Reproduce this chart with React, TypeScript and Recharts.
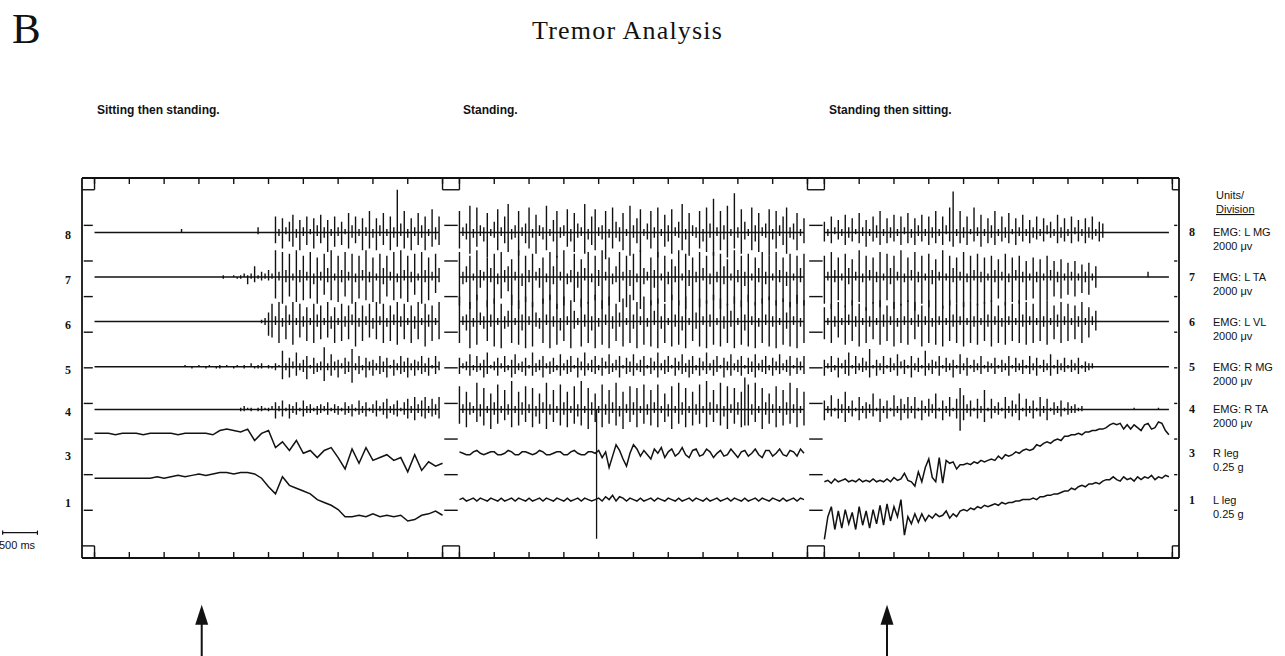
import React from "react";
import { LineChart, Line, XAxis, YAxis, ReferenceLine, ReferenceDot } from "recharts";

// rows, top to bottom
const channels = ["8", "7", "6", "5", "4", "3", "1"];
const channelNames = ["EMG: L MG", "EMG: L TA", "EMG: L VL", "EMG: R MG", "EMG: R TA", "R leg", "L leg"];
const channelUnits = ["2000 μv", "2000 μv", "2000 μv", "2000 μv", "2000 μv", "0.25 g", "0.25 g"];
// baseline of each row, in divisions
const rowLevels = [8.8, 7.55, 6.3, 5.03, 3.83, 2.6, 1.3];

const panelTitles = ["Sitting then standing.", "Standing.", "Standing then sitting."];
const panelStarts = [0, 5243, 10486]; // ms on the shared time axis
const panelTicks = [0, 500, 1000, 1500, 2000, 2500, 3000, 3500, 4000, 4500, 5000];
const divisionLevels = [0, 1, 2, 3, 4, 5, 6, 7, 8, 9, 10];
const PANEL_MS = 5000;
const X_MIN = -180;
const X_MAX = 15581;
const Y_MIN = -0.34;
const Y_MAX = 10.33;

const markerTime = 1970; // sync line in the standing panel
const arrowPanels = [0, 2];
const arrowTimes = [1540, 900];
const scaleBarStart = -1320;
const scaleBarMs = 500;

const EMG_STEP = 50; // ms between EMG peaks
const EMG_PER_DIV = 20; // values in 100 µV, 2000 µV per division
const LEG_PER_DIV = 25; // values in 0.01 g, 0.25 g per division
const legSteps = [100, 50, 50];

// EMG: pairs of (positive peak, negative peak) every 50 ms, in 100 µV
// ---- Sitting then standing ----
const sitStandLMG = [
  0, 0, 0, 0, 0, 0, 0, 0, 0, 0, 0, 0, 0, 0, 0, 0, 0, 0, 0, 0,
  0, 0, 0, 0, 0, 0, 0, 0, 0, 0, 0, 0, 0, 0, 0, 0, 0, 0, 0, 0,
  0, 0, 0, 0, 0, 0, 0, 0, 0, 0, 2, 0, 0, 0, 0, 0, 0, 0, 0, 0,
  0, 0, 0, 0, 0, 0, 0, 0, 0, 0, 0, 0, 0, 0, 0, 0, 0, 0, 0, 0,
  0, 0, 0, 0, 0, 0, 0, 0, 0, 0, 0, 0, 0, 0, 3, -1, 0, 0, 0, 0,
  0, 0, 0, 0, 9, -6, 2, -2, 8, -9, 3, -1, 6, -5, 10, -8, 2, -3, 7, -10,
  3, -2, 9, -7, 2, -1, 8, -9, 4, -2, 10, -6, 3, -3, 7, -11, 2, -2, 9, -8,
  3, -2, 6, -7, 2, -1, 11, -9, 4, -3, 9, -6, 2, -2, 8, -10, 3, -2, 12, -9,
  2, -3, 8, -10, 4, -2, 11, -7, 2, -2, 9, -10, 3, -3, 24, -8, 5, -2, 12, -9,
  2, -3, 8, -10, 3, -2, 11, -7, 4, -3, 9, -10, 2, -2, 13, -8, 3, -4, 9, -7,
];
const sitStandLTA = [
  0, 0, 0, 0, 0, 0, 0, 0, 0, 0, 0, 0, 0, 0, 0, 0, 0, 0, 0, 0,
  0, 0, 0, 0, 0, 0, 0, 0, 0, 0, 0, 0, 0, 0, 0, 0, 0, 0, 0, 0,
  0, 0, 0, 0, 0, 0, 0, 0, 0, 0, 0, 0, 0, 0, 0, 0, 0, 0, 0, 0,
  0, 0, 0, 0, 0, 0, 0, 0, 0, 0, 0, 0, 0, 0, 1, -1, 0, 0, 0, 0,
  1, 0, 0, -1, 1, -1, 2, 0, 1, -4, 2, -1, 6, -3, 1, -1, 3, -2, 2, -1,
  4, -2, 2, -1, 15, -12, 3, -2, 14, -15, 4, -3, 13, -11, 2, -2, 15, -14, 4, -3,
  12, -13, 3, -2, 14, -12, 2, -4, 11, -15, 3, -2, 13, -10, 5, -3, 15, -13, 2, -2,
  12, -14, 4, -3, 14, -11, 3, -2, 13, -15, 2, -3, 12, -12, 4, -2, 15, -13, 3, -3,
  11, -14, 2, -2, 13, -15, 5, -4, 12, -11, 3, -2, 14, -13, 2, -3, 15, -12, 4, -2,
  12, -14, 3, -3, 13, -10, 2, -2, 14, -15, 4, -3, 11, -13, 3, -2, 13, -9, 5, -3,
];
const sitStandLVL = [
  0, 0, 0, 0, 0, 0, 0, 0, 0, 0, 0, 0, 0, 0, 0, 0, 0, 0, 0, 0,
  0, 0, 0, 0, 0, 0, 0, 0, 0, 0, 0, 0, 0, 0, 0, 0, 0, 0, 0, 0,
  0, 0, 0, 0, 0, 0, 0, 0, 0, 0, 0, 0, 0, 0, 0, 0, 0, 0, 0, 0,
  0, 0, 0, 0, 0, 0, 0, 0, 0, 0, 0, 0, 0, 0, 0, 0, 0, 0, 0, 0,
  0, 0, 0, 0, 0, 0, 0, 0, 0, 0, 0, 0, 0, 0, 0, 0, 1, -1, 2, -2,
  5, -8, 10, -9, 3, -2, 11, -12, 2, -3, 9, -10, 4, -2, 11, -13, 2, -2, 10, -9,
  3, -3, 8, -11, 2, -2, 10, -12, 4, -3, 9, -10, 2, -2, 11, -9, 3, -4, 8, -12,
  2, -2, 10, -11, 3, -3, 9, -10, 4, -2, 11, -14, 2, -3, 9, -11, 3, -2, 10, -9,
  2, -4, 11, -10, 3, -2, 10, -12, 2, -3, 9, -11, 4, -2, 11, -13, 3, -3, 10, -10,
  2, -2, 9, -12, 3, -4, 11, -10, 2, -2, 10, -14, 4, -3, 9, -11, 2, -2, 11, -10,
];
const sitStandRMG = [
  0, 0, 0, 0, 0, 0, 0, 0, 0, 0, 0, 0, 0, 0, 0, 0, 0, 0, 0, 0,
  0, 0, 0, 0, 0, 0, 0, 0, 0, 0, 0, 0, 0, 0, 0, 0, 0, 0, 0, 0,
  0, 0, 0, 0, 0, 0, 0, 0, 0, 0, 0, 0, 1, 0, 0, 0, 0, -1, 0, 0,
  1, 0, 0, 0, 0, -1, 1, 0, 0, 0, 0, -1, 1, -1, 0, 0, 1, 0, 0, 0,
  0, -1, 1, 0, 0, 0, 1, -1, 0, 0, 2, 0, 0, -1, 1, -1, 2, -1, 0, 0,
  1, -1, 0, -1, 2, -2, 1, 0, 9, -7, 2, -2, 5, -6, 3, -1, 8, -5, 2, -2,
  4, -3, 6, -7, 1, -1, 5, -4, 2, -3, 3, -2, 11, -8, 2, -2, 7, -5, 3, -2,
  4, -6, 2, -1, 5, -4, 3, -3, 10, -9, 2, -2, 6, -4, 1, -2, 5, -6, 3, -2,
  4, -5, 2, -2, 6, -4, 3, -3, 5, -6, 1, -1, 4, -5, 2, -2, 6, -4, 3, -3,
  5, -6, 2, -2, 4, -5, 3, -2, 6, -4, 2, -3, 5, -5, 1, -1, 6, -4, 3, -2,
];
const sitStandRTA = [
  0, 0, 0, 0, 0, 0, 0, 0, 0, 0, 0, 0, 0, 0, 0, 0, 0, 0, 0, 0,
  0, 0, 0, 0, 0, 0, 0, 0, 0, 0, 0, 0, 0, 0, 0, 0, 0, 0, 0, 0,
  0, 0, 0, 0, 0, 0, 0, 0, 0, 0, 0, 0, 0, 0, 0, 0, 0, 0, 0, 0,
  0, 0, 0, 0, 0, 0, 0, 0, 0, 0, 0, 0, 0, 0, 0, 0, 0, 0, 0, 0,
  0, 0, 0, 0, 1, -1, 2, -1, 1, 0, 1, -1, 0, 0, 1, -1, 2, -1, 1, 0,
  1, -1, 2, 0, 4, -5, 2, -1, 5, -4, 1, -1, 3, -5, 2, -2, 4, -3, 1, -1,
  5, -4, 2, -2, 3, -2, 1, -1, 2, -3, 3, -2, 2, -1, 4, -3, 1, -1, 3, -2,
  2, -3, 1, -1, 4, -3, 2, -2, 3, -4, 1, -1, 5, -3, 2, -2, 4, -4, 1, -1,
  3, -2, 5, -4, 2, -1, 4, -3, 6, -5, 2, -2, 3, -3, 5, -4, 1, -1, 4, -3,
  6, -5, 2, -2, 7, -6, 3, -2, 5, -4, 7, -5, 2, -2, 6, -4, 3, -3, 7, -5,
];
// accelerometers, 0.01 g, every 100 ms
const sitStandRLeg = [
  14, 14, 14, 13, 14, 14, 14, 13, 14, 14, 14, 14, 13, 14, 14, 14, 14, 13, 16, 17,
  16, 15, 17, 9, 14, 16, 4, 8, 2, 9, 0, 2, -3, 2, 4, -3, -11, 3, -7, 4,
  -5, -3, -1, -5, -3, -13, -1, -12, -6, -9, -7,
];
const sitStandLLeg = [
  15, 15, 15, 15, 15, 15, 15, 15, 15, 16, 15, 16, 17, 16, 17, 18, 17, 18, 19, 19,
  18, 19, 19, 18, 15, 9, 4, 16, 10, 8, 6, 4, 0, -2, -4, -7, -12, -12, -11, -12,
  -10, -12, -11, -12, -11, -15, -14, -11, -10, -8, -11,
];

// ---- Standing ----
const standLMG = [
  12, -9, 3, -2, 5, -4, 15, -12, 2, -3, 14, -8, 4, -2, 3, -5, 11, -14, 2, -2,
  6, -3, 13, -10, 3, -2, 9, -6, 16, -11, 2, -4, 4, -3, 12, -13, 3, -2, 5, -6,
  14, -9, 2, -3, 10, -12, 4, -2, 3, -4, 15, -10, 2, -2, 7, -5, 12, -14, 3, -3,
  4, -2, 13, -8, 2, -5, 11, -11, 5, -3, 3, -2, 16, -12, 2, -4, 9, -7, 13, -10,
  3, -2, 4, -4, 12, -15, 2, -3, 14, -9, 6, -3, 3, -5, 11, -10, 2, -2, 15, -13,
  4, -3, 8, -6, 13, -11, 2, -2, 5, -4, 12, -9, 3, -3, 14, -14, 2, -2, 10, -8,
  4, -5, 13, -12, 3, -2, 6, -3, 16, -10, 2, -4, 11, -13, 4, -2, 3, -3, 12, -9,
  2, -5, 14, -11, 5, -3, 19, -13, 3, -2, 12, -10, 4, -4, 15, -14, 2, -2, 22, -9,
  3, -3, 13, -12, 6, -4, 2, -2, 14, -10, 4, -5, 11, -11, 3, -2, 5, -3, 13, -13,
  2, -4, 12, -9, 4, -2, 9, -7, 14, -12, 3, -3, 5, -4, 11, -10, 2, -2, 8, -6,
];
const standLTA = [
  14, -16, 3, -4, 6, -3, 12, -18, 2, -2, 15, -13, 4, -6, 3, -2, 11, -17, 5, -3,
  13, -15, 2, -4, 14, -12, 4, -3, 6, -8, 10, -16, 3, -2, 15, -18, 2, -5, 12, -14,
  4, -3, 13, -17, 3, -2, 5, -6, 11, -15, 2, -3, 14, -13, 6, -4, 12, -18, 3, -2,
  15, -16, 2, -4, 4, -3, 13, -14, 3, -6, 10, -17, 5, -2, 14, -15, 2, -3, 12, -13,
  4, -5, 15, -18, 3, -2, 11, -16, 2, -4, 6, -3, 14, -14, 3, -2, 12, -17, 4, -5,
  13, -13, 2, -3, 15, -18, 5, -4, 3, -2, 11, -16, 4, -6, 14, -15, 2, -2, 12, -14,
  3, -4, 10, -13, 6, -3, 15, -16, 2, -2, 13, -18, 4, -5, 11, -14, 3, -3, 14, -17,
  5, -2, 12, -15, 2, -4, 14, -13, 3, -3, 13, -18, 6, -4, 10, -16, 2, -2, 15, -15,
  4, -3, 12, -17, 3, -5, 13, -14, 2, -2, 11, -16, 5, -3, 14, -15, 3, -4, 12, -13,
  2, -2, 14, -16, 4, -3, 11, -14, 3, -5, 13, -17, 2, -2, 12, -15, 5, -3, 13, -16,
];
const standLVL = [
  14, -12, 3, -2, 4, -5, 11, -15, 2, -3, 15, -13, 5, -2, 3, -4, 12, -11, 4, -3,
  13, -14, 2, -2, 10, -15, 3, -4, 6, -3, 15, -12, 2, -2, 12, -13, 4, -5, 14, -15,
  3, -2, 11, -14, 5, -3, 2, -4, 13, -12, 4, -2, 15, -15, 3, -3, 10, -13, 2, -5,
  14, -11, 3, -2, 12, -15, 6, -4, 2, -2, 13, -14, 4, -3, 11, -12, 3, -5, 15, -15,
  2, -3, 12, -13, 4, -2, 14, -15, 3, -4, 10, -11, 5, -3, 13, -14, 2, -2, 15, -12,
  4, -4, 11, -15, 3, -2, 14, -13, 2, -3, 12, -14, 6, -2, 13, -15, 3, -4, 10, -12,
  2, -2, 15, -14, 4, -3, 12, -13, 3, -5, 14, -15, 2, -2, 11, -11, 5, -4, 13, -14,
  3, -2, 12, -15, 4, -3, 15, -13, 2, -2, 13, -14, 3, -4, 10, -12, 6, -3, 14, -15,
  2, -2, 12, -13, 4, -5, 15, -14, 3, -2, 11, -15, 2, -3, 13, -12, 4, -2, 14, -14,
  3, -3, 12, -15, 2, -2, 13, -13, 5, -4, 11, -14, 3, -2, 15, -15, 2, -3, 12, -12,
];
const standRMG = [
  5, -4, 2, -1, 3, -2, 7, -5, 1, -2, 6, -3, 2, -2, 4, -6, 8, -4, 1, -1,
  3, -2, 5, -5, 2, -1, 6, -3, 1, -2, 4, -6, 7, -4, 2, -2, 3, -3, 5, -5,
  1, -1, 8, -5, 2, -3, 4, -2, 6, -6, 2, -1, 3, -4, 5, -3, 1, -2, 7, -5,
  2, -2, 4, -4, 6, -3, 1, -1, 5, -6, 3, -2, 8, -5, 2, -2, 4, -3, 6, -4,
  1, -2, 5, -5, 3, -1, 7, -4, 2, -3, 4, -2, 6, -6, 1, -1, 5, -4, 3, -3,
  7, -5, 2, -2, 4, -3, 6, -5, 1, -1, 5, -4, 3, -2, 8, -6, 2, -2, 4, -4,
  6, -3, 1, -1, 5, -5, 3, -2, 7, -4, 2, -3, 4, -6, 6, -4, 1, -2, 5, -5,
  3, -2, 8, -4, 2, -2, 4, -5, 6, -3, 1, -1, 5, -6, 3, -2, 7, -5, 2, -2,
  4, -3, 6, -5, 1, -1, 5, -4, 3, -3, 7, -6, 2, -2, 4, -3, 6, -4, 1, -2,
  5, -5, 3, -2, 7, -4, 2, -2, 4, -3, 6, -5, 1, -1, 5, -4, 3, -2, 6, -4,
];
const standRTA = [
  13, -8, 3, -2, 10, -10, 4, -3, 2, -2, 15, -7, 3, -4, 12, -9, 2, -2, 9, -11,
  4, -3, 14, -8, 2, -2, 11, -6, 3, -3, 16, -10, 2, -2, 10, -9, 4, -3, 13, -7,
  3, -2, 12, -10, 2, -4, 9, -8, 4, -2, 15, -11, 3, -3, 11, -7, 2, -2, 14, -9,
  4, -3, 10, -10, 2, -2, 13, -8, 3, -4, 16, -9, 2, -2, 12, -11, 4, -3, 9, -7,
  2, -2, 14, -10, 3, -3, 11, -8, 4, -2, 15, -9, 2, -4, 10, -11, 3, -2, 13, -7,
  4, -3, 12, -10, 2, -2, 14, -8, 3, -3, 11, -9, 4, -2, 14, -10, 2, -2, 9, -7,
  3, -4, 13, -11, 2, -2, 15, -8, 4, -3, 12, -10, 2, -2, 10, -9, 3, -3, 14, -8,
  2, -2, 16, -10, 4, -3, 11, -7, 3, -2, 15, -9, 2, -4, 13, -11, 3, -2, 12, -8,
  4, -3, 10, -10, 18, -9, 14, -9, 3, -3, 15, -7, 2, -2, 12, -11, 4, -3, 9, -8,
  3, -2, 13, -10, 2, -2, 11, -9, 4, -3, 15, -8, 3, -2, 12, -10, 2, -2, 10, -9,
];
// accelerometers, 0.01 g, every 50 ms
const standRLeg = [
  1, 0, -1, -1, 1, 2, 0, -1, 0, 1, 1, -1, -1, 0, 2, 1, -1, -1, 1, 1,
  0, -1, 0, 2, 1, -1, -1, 0, 1, 1, -1, -1, 1, 2, 0, -1, -1, 1, 1, 0,
  2, -3, 1, -10, -2, 6, 2, -4, -9, 0, 6, 3, -2, 2, -1, -4, 3, 0, 4, -3,
  1, 3, -2, 0, 4, -1, -3, 2, 3, -2, -1, 3, 1, -3, 0, 2, -2, -1, 3, 0,
  -3, 1, 2, -2, 0, 3, -1, -3, 2, 2, -2, 0, 3, -1, -2, 2, 1, -2, 3, 0,
];
const standLLeg = [
  0, 1, -1, 0, 1, -1, 1, 0, -1, 1, 0, -1, 1, -1, 0, 1, -1, 1, 0, -1,
  1, -1, 0, 1, -1, 1, 0, -1, 1, 0, -1, 1, -1, 0, 1, -1, 1, 0, -1, 0,
  1, -1, 2, 0, 3, -1, 2, 1, -1, 1, 0, -1, 1, -1, 0, 1, -1, 1, 0, -1,
  1, 0, -1, 1, -1, 0, 1, -1, 1, 0, -1, 1, -1, 0, 1, -1, 0, 1, -1, 1,
  0, -1, 1, -1, 0, 1, -1, 1, 0, -1, 1, 0, -1, 1, -1, 0, 1, -1, 1, 0,
];

// ---- Standing then sitting ----
const standSitLMG = [
  6, -5, 2, -2, 9, -6, 3, -1, 7, -4, 2, -2, 10, -7, 3, -3, 8, -5, 2, -1,
  11, -6, 3, -2, 7, -8, 2, -2, 9, -5, 4, -3, 12, -7, 2, -2, 8, -6, 3, -3,
  10, -5, 2, -2, 9, -7, 3, -1, 11, -6, 2, -3, 8, -7, 4, -2, 10, -5, 2, -2,
  9, -7, 3, -3, 12, -6, 2, -2, 9, -7, 4, -1, 14, -5, 23, -8, 2, -2, 12, -6,
  3, -3, 9, -7, 2, -1, 14, -5, 3, -2, 10, -8, 2, -2, 8, -6, 4, -3, 12, -7,
  2, -2, 9, -5, 3, -3, 11, -6, 2, -1, 8, -7, 3, -2, 10, -5, 2, -2, 7, -6,
  3, -3, 9, -4, 2, -2, 8, -5, 4, -1, 6, -3, 2, -2, 10, -6, 3, -3, 8, -5,
  2, -2, 9, -6, 3, -1, 7, -5, 2, -2, 8, -6, 3, -3, 9, -4, 2, -2, 6, -5,
  5, -3, 0, 0, 0, 0, 0, 0, 0, 0, 0, 0, 0, 0, 0, 0, 0, 0, 0, 0,
  0, 0, 0, 0, 0, 0, 0, 0, 0, 0, 0, 0, 0, 0, 0, 0, 0, 0, 0, 0,
];
const standSitLTA = [
  12, -15, 3, -2, 14, -18, 4, -3, 11, -13, 2, -2, 13, -17, 5, -4, 10, -16, 3, -2,
  15, -14, 2, -3, 12, -19, 4, -2, 11, -15, 3, -3, 14, -17, 2, -2, 13, -13, 5, -4,
  12, -18, 3, -2, 15, -16, 2, -3, 11, -14, 4, -2, 14, -19, 3, -3, 12, -15, 2, -2,
  13, -17, 4, -4, 10, -14, 3, -2, 15, -18, 2, -2, 12, -16, 5, -3, 11, -15, 3, -2,
  14, -17, 2, -3, 12, -13, 4, -2, 13, -16, 3, -3, 11, -15, 2, -2, 12, -14, 4, -3,
  10, -12, 3, -2, 13, -16, 2, -3, 11, -14, 4, -2, 12, -15, 3, -3, 9, -13, 2, -2,
  11, -12, 3, -3, 10, -14, 2, -2, 12, -13, 4, -2, 9, -11, 3, -3, 10, -12, 2, -2,
  8, -10, 3, -2, 9, -11, 2, -2, 7, -9, 3, -3, 8, -10, 2, -2, 6, -6, 0, 0,
  0, 0, 0, 0, 0, 0, 0, 0, 0, 0, 0, 0, 0, 0, 0, 0, 0, 0, 0, 0,
  0, 0, 0, 0, 0, 0, 3, 0, 0, 0, 0, 0, 0, 0, 0, 0, 0, 0, 0, 0,
];
const standSitLVL = [
  8, -10, 2, -2, 10, -12, 3, -3, 11, -9, 2, -2, 9, -13, 4, -2, 12, -11, 3, -3,
  10, -14, 2, -2, 8, -12, 3, -3, 11, -10, 2, -2, 12, -13, 4, -3, 9, -11, 3, -2,
  11, -14, 2, -3, 10, -12, 3, -2, 12, -13, 2, -2, 11, -10, 4, -3, 9, -14, 3, -2,
  12, -12, 2, -3, 11, -13, 3, -2, 9, -14, 2, -2, 12, -11, 4, -3, 10, -12, 3, -2,
  11, -14, 2, -2, 12, -12, 3, -3, 10, -13, 2, -2, 11, -11, 4, -3, 12, -14, 3, -2,
  9, -12, 2, -3, 11, -13, 3, -2, 10, -11, 2, -2, 12, -12, 4, -3, 11, -13, 3, -2,
  10, -12, 2, -2, 11, -11, 3, -3, 12, -13, 2, -2, 9, -10, 4, -3, 11, -12, 3, -2,
  10, -11, 2, -2, 9, -10, 3, -3, 11, -12, 2, -2, 8, -9, 3, -2, 6, -5, 0, 0,
  0, 0, 0, 0, 0, 0, 0, 0, 0, 0, 0, 0, 0, 0, 0, 0, 0, 0, 0, 0,
  0, 0, 0, 0, 0, 0, 0, 0, 0, 0, 0, 0, 0, 0, 0, 0, 0, 0, 0, 0,
];
const standSitRMG = [
  4, -5, 2, -1, 6, -3, 1, -2, 5, -6, 2, -1, 4, -4, 8, -5, 1, -1, 6, -4,
  2, -2, 5, -3, 3, -2, 10, -6, 1, -1, 4, -5, 2, -2, 6, -4, 1, -1, 5, -3,
  2, -2, 7, -5, 3, -1, 4, -4, 1, -1, 6, -6, 2, -2, 5, -3, 1, -1, 9, -5,
  2, -2, 4, -4, 3, -1, 6, -5, 1, -1, 5, -3, 2, -2, 4, -6, 1, -1, 7, -4,
  2, -2, 5, -5, 1, -1, 4, -3, 2, -2, 6, -4, 1, -1, 3, -3, 2, -1, 5, -4,
  1, -1, 4, -3, 2, -2, 6, -5, 1, -1, 5, -3, 2, -2, 4, -4, 1, -1, 6, -4,
  2, -2, 5, -5, 1, -1, 4, -3, 2, -2, 7, -5, 1, -1, 4, -4, 2, -2, 5, -3,
  1, -1, 4, -3, 2, -2, 5, -4, 1, -1, 3, -3, 2, -2, 2, -1, 0, 0, 0, 0,
  0, 0, 0, 0, 0, 0, 0, 0, 0, 0, 0, 0, 0, 0, 0, 0, 0, 0, 0, 0,
  0, 0, 0, 0, 0, 0, 0, 0, 0, 0, 0, 0, 0, 0, 0, 0, 0, 0, 0, 0,
];
const standSitRTA = [
  5, -6, 2, -2, 8, -4, 1, -1, 6, -5, 3, -2, 10, -7, 2, -2, 5, -4, 1, -1,
  7, -6, 2, -2, 4, -5, 3, -2, 9, -4, 1, -1, 6, -7, 2, -2, 5, -5, 1, -1,
  8, -4, 2, -2, 6, -6, 3, -2, 7, -5, 2, -2, 7, -5, 1, -1, 5, -6, 2, -2,
  6, -4, 3, -2, 9, -5, 1, -1, 5, -6, 2, -2, 7, -4, 1, -1, 6, -5, 12, -12,
  8, -6, 3, -2, 5, -4, 1, -1, 6, -5, 2, -2, 11, -7, 1, -1, 6, -5, 2, -2,
  4, -3, 1, -1, 7, -5, 2, -2, 5, -4, 3, -2, 9, -6, 1, -1, 6, -4, 2, -2,
  5, -5, 1, -1, 7, -4, 2, -2, 6, -6, 1, -1, 4, -3, 2, -2, 5, -4, 1, -1,
  4, -3, 2, -2, 3, -2, 1, -1, 2, -1, 0, 0, 0, 0, 0, 0, 0, 0, 0, 0,
  0, 0, 0, 0, 0, 0, 0, 0, 0, 0, 0, 0, 0, 0, 0, 0, 0, 0, 1, 0,
  0, 0, 0, 0, 0, 0, 0, 0, 0, 0, 0, 0, 1, 0, 0, 0, 0, 0, 0, 0,
];
const standSitRLeg = [
  -20, -19, -21, -18, -20, -19, -18, -20, -19, -20, -18, -20, -19, -20, -18, -20, -19, -20, -18, -20,
  -17, -19, -18, -14, -19, -20, -23, -13, -20, -10, -4, -17, -20, -3, -21, -5, -7, -6, -11, -8,
  -8, -7, -8, -6, -7, -5, -6, -5, -4, -5, -2, -4, -1, -2, -1, 1, 0, 2, 3, 2,
  3, 6, 5, 7, 8, 7, 9, 10, 9, 12, 12, 13, 13, 14, 13, 15, 15, 16, 16, 17,
  17, 18, 20, 21, 20, 21, 17, 20, 17, 20, 18, 16, 20, 21, 17, 18, 22, 21, 16, 13,
];
const standSitLLeg = [
  -28, -12, -5, -21, -8, -20, -7, -17, -9, -21, -5, -18, -8, -20, -7, -17, -4, -18, -3, -15,
  -5, -12, 0, -25, -12, -17, -10, -16, -10, -15, -11, -13, -10, -12, -11, -8, -13, -10, -12, -8,
  -7, -8, -6, -7, -5, -6, -4, -5, -4, -3, -4, -2, -3, -2, -2, -1, -1, 0, 0, 0,
  1, 0, 2, 2, 3, 3, 4, 4, 5, 6, 6, 8, 7, 9, 10, 9, 11, 11, 12, 11,
  13, 14, 14, 16, 14, 13, 16, 14, 15, 13, 16, 14, 16, 15, 17, 14, 16, 15, 17, 16,
];

const panelEmg = [
  [sitStandLMG, sitStandLTA, sitStandLVL, sitStandRMG, sitStandRTA],
  [standLMG, standLTA, standLVL, standRMG, standRTA],
  [standSitLMG, standSitLTA, standSitLVL, standSitRMG, standSitRTA],
];
const panelLegs = [
  [sitStandRLeg, sitStandLLeg],
  [standRLeg, standLLeg],
  [standSitRLeg, standSitLLeg],
];

const INK = "#121212";
const AX = { xAxisId: "b", yAxisId: "l" };

// EMG: each (high, low) peak pair drawn as a vertical stroke through the baseline
const toSpikes = (pairs: number[], step: number, start: number, level: number, perDiv: number) => {
  const out: { t: number; v: number }[] = [];
  for (let k = 0; k + 1 < pairs.length; k += 2) {
    const t = start + (k / 2) * step;
    const hi = pairs[k];
    const lo = pairs[k + 1];
    out.push({ t, v: level });
    if (hi !== 0 || lo !== 0) {
      out.push({ t, v: level + hi / perDiv }, { t, v: level + lo / perDiv }, { t, v: level });
    }
  }
  return out;
};

const toSeries = (values: number[], step: number, start: number, level: number, perDiv: number) =>
  values.map((v, i) => ({ t: start + i * step, v: level + v / perDiv }));

const NoLabel = () => <g />;

const LeftTick = ({ x, y, payload }: any) => {
  const i = rowLevels.indexOf(payload.value);
  return (
    <text x={x - 14} y={y + 7} textAnchor="middle" fontFamily="Liberation Serif" fontWeight="bold" fontSize={12} fill={INK}>
      {channels[i]}
    </text>
  );
};

const RightTick = ({ x, y, payload }: any) => {
  const i = rowLevels.indexOf(payload.value);
  return (
    <g fill={INK}>
      <text x={x + 13} y={y + 4} textAnchor="middle" fontFamily="Liberation Serif" fontWeight="bold" fontSize={12}>
        {channels[i]}
      </text>
      <text x={x + 34} y={y + 4} fontFamily="Liberation Sans" fontSize={11}>{channelNames[i]}</text>
      <text x={x + 34} y={y + 18} fontFamily="Liberation Sans" fontSize={11}>{channelUnits[i]}</text>
    </g>
  );
};

const ArrowHead = ({ cx, cy }: any) => (
  <polygon points={`${cx},${cy} ${cx - 6.5},${cy + 20} ${cx + 6.5},${cy + 20}`} fill={INK} />
);

export default function App() {
  const traces: { key: string; data: { t: number; v: number }[]; w: number }[] = [];
  panelStarts.forEach((start, p) => {
    panelEmg[p].forEach((pairs, r) =>
      traces.push({ key: `emg-${p}-${r}`, data: toSpikes(pairs, EMG_STEP, start, rowLevels[r], EMG_PER_DIV), w: 1.4 })
    );
    panelLegs[p].forEach((values, r) =>
      traces.push({ key: `leg-${p}-${r}`, data: toSeries(values, legSteps[p], start, rowLevels[5 + r], LEG_PER_DIV), w: 1.5 })
    );
  });

  const panelEnds = panelStarts.map((s) => s + PANEL_MS);
  const gaps = [
    [X_MIN, panelStarts[0]],
    [panelEnds[0], panelStarts[1]],
    [panelEnds[1], panelStarts[2]],
    [panelEnds[2], X_MAX],
  ];
  const edges = [...panelStarts, ...panelEnds];
  const allTicks = panelStarts.flatMap((s) => panelTicks.map((t) => s + t));

  return (
    <div style={{ position: "absolute", left: 0, top: 0, width: 1285, height: 656, background: "#fff" }}>
      <LineChart width={1285} height={656} margin={{ top: 178, right: 105, bottom: 98, left: 81 }}>
        <XAxis xAxisId="t" orientation="top" type="number" dataKey="t" domain={[X_MIN, X_MAX]} allowDataOverflow
          ticks={allTicks} interval={0} mirror height={1} tick={<NoLabel />} tickSize={6}
          tickLine={{ stroke: INK, strokeWidth: 1.4 }} axisLine={{ stroke: INK, strokeWidth: 1.8 }} />
        <XAxis xAxisId="b" orientation="bottom" type="number" dataKey="t" domain={[X_MIN, X_MAX]} allowDataOverflow
          ticks={allTicks} interval={0} mirror height={1} tick={<NoLabel />} tickSize={6}
          tickLine={{ stroke: INK, strokeWidth: 1.4 }} axisLine={{ stroke: INK, strokeWidth: 1.8 }} />
        <YAxis yAxisId="l" orientation="left" type="number" domain={[Y_MIN, Y_MAX]} allowDataOverflow
          ticks={rowLevels} interval={0} width={1} tickLine={false} tickSize={0} tickMargin={0}
          tick={<LeftTick />} axisLine={{ stroke: INK, strokeWidth: 1.8 }} />
        <YAxis yAxisId="r" orientation="right" type="number" domain={[Y_MIN, Y_MAX]} allowDataOverflow
          ticks={rowLevels} interval={0} width={1} tickLine={false} tickSize={0} tickMargin={0}
          tick={<RightTick />} axisLine={{ stroke: INK, strokeWidth: 1.8 }} />

        {gaps.flatMap(([a, b], g) =>
          divisionLevels.map((lv) => {
            const inset = lv === 0 || lv === 10 ? 0 : 25;
            return (
              <ReferenceLine key={`gap-${g}-${lv}`} {...AX} ifOverflow="visible"
                segment={[{ x: a + inset, y: lv }, { x: b - inset, y: lv }]} stroke={INK} strokeWidth={1.4} />
            );
          })
        )}
        {edges.flatMap((x) => [
          <ReferenceLine key={`et-${x}`} {...AX} ifOverflow="visible"
            segment={[{ x, y: divisionLevels[10] }, { x, y: Y_MAX }]} stroke={INK} strokeWidth={1.4} />,
          <ReferenceLine key={`eb-${x}`} {...AX} ifOverflow="visible"
            segment={[{ x, y: divisionLevels[0] }, { x, y: Y_MIN }]} stroke={INK} strokeWidth={1.4} />,
        ])}

        {traces.map((tr) => (
          <Line key={tr.key} {...AX} data={tr.data} dataKey="v" type="linear" stroke={INK}
            strokeWidth={tr.w} dot={false} activeDot={false} isAnimationActive={false} />
        ))}

        <ReferenceLine {...AX} ifOverflow="visible"
          segment={[{ x: panelStarts[1] + markerTime, y: 0.2 }, { x: panelStarts[1] + markerTime, y: rowLevels[4] }]}
          stroke={INK} strokeWidth={1.3} />

        <ReferenceLine {...AX} ifOverflow="visible"
          segment={[{ x: scaleBarStart, y: 0.37 }, { x: scaleBarStart + scaleBarMs, y: 0.37 }]} stroke={INK} strokeWidth={1.2} />
        <ReferenceLine {...AX} ifOverflow="visible"
          segment={[{ x: scaleBarStart, y: 0.31 }, { x: scaleBarStart, y: 0.43 }]} stroke={INK} strokeWidth={1.2} />
        <ReferenceLine {...AX} ifOverflow="visible"
          segment={[{ x: scaleBarStart + scaleBarMs, y: 0.31 }, { x: scaleBarStart + scaleBarMs, y: 0.43 }]} stroke={INK} strokeWidth={1.2} />

        {arrowPanels.map((p, k) => (
          <ReferenceLine key={`as-${k}`} {...AX} ifOverflow="visible"
            segment={[{ x: panelStarts[p] + arrowTimes[k], y: -2.15 }, { x: panelStarts[p] + arrowTimes[k], y: -3.3 }]}
            stroke={INK} strokeWidth={2} />
        ))}
        {arrowPanels.map((p, k) => (
          <ReferenceDot key={`ah-${k}`} {...AX} ifOverflow="visible" x={panelStarts[p] + arrowTimes[k]} y={-1.65}
            shape={(props: any) => <ArrowHead {...props} />} />
        ))}
      </LineChart>

      <svg width={1285} height={656} style={{ position: "absolute", left: 0, top: 0, pointerEvents: "none" }}>
        <text x={12} y={43} fontFamily="Liberation Serif" fontSize={43} fill={INK}>B</text>
        <text x={532} y={39} fontFamily="Liberation Serif" fontSize={26} letterSpacing={1.2} fill={INK}>Tremor Analysis</text>
        {panelTitles.map((title, p) => (
          <text key={title} x={[97, 463, 829][p]} y={114} fontFamily="Liberation Sans" fontWeight="bold" fontSize={12} fill={INK}>
            {title}
          </text>
        ))}
        <text x={1216} y={199} fontFamily="Liberation Sans" fontSize={11} fill={INK}>Units/</text>
        <text x={1216} y={213} fontFamily="Liberation Sans" fontSize={11} textDecoration="underline" fill={INK}>Division</text>
        <text x={-1} y={549} fontFamily="Liberation Sans" fontSize={11} fill={INK}>500 ms</text>
      </svg>
    </div>
  );
}
